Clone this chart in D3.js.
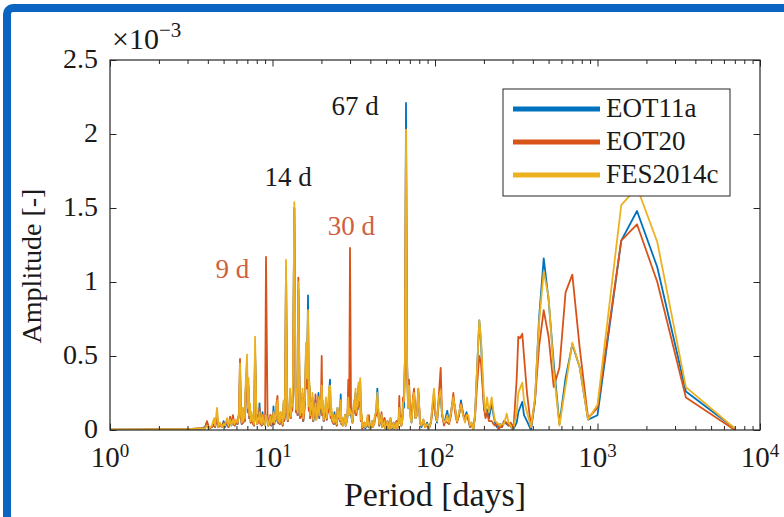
<!DOCTYPE html>
<html><head><meta charset="utf-8">
<script src="https://cdn.jsdelivr.net/npm/d3@7"></script>
<style>
body{margin:0;background:#fff;}
svg{display:block;}
</style>
</head><body>
<svg id="c" width="784" height="517"></svg>
<script>
// ---- data (amplitudes in units of 1e-3) ----
const period = [1,2.0,3.0,3.58,3.84,3.95,4.07,4.24,4.37,4.43,4.56,4.65,4.75,4.89,5.00,5.10,5.25,5.36,5.48,5.59,5.71,5.84,5.96,6.09,6.22,6.31,6.40,6.54,6.68,6.82,6.97,7.12,7.27,7.43,7.59,7.81,7.97,8.14,8.32,8.50,8.68,8.87,9.12,9.32,9.52,9.72,9.93,10.14,10.36,10.58,10.73,10.96,11.20,11.44,11.69,11.94,12.11,12.29,12.55,12.82,13.09,13.37,13.62,13.85,14.15,14.42,14.67,14.98,15.30,15.63,16.08,16.31,16.54,16.90,17.26,17.63,18.01,18.40,18.79,19.19,19.60,20.08,20.46,20.89,21.34,21.80,22.27,22.59,23.08,23.57,24.07,24.59,25.12,25.66,26.29,26.78,27.35,27.94,28.54,29.28,29.65,29.99,30.42,31.07,31.74,32.42,33.11,33.82,34.65,35.29,36.05,36.83,37.62,38.43,39.26,40.10,40.96,41.84,42.74,44.16,44.91,45.88,46.87,47.86,48.90,49.95,51.03,52.12,53.24,54.39,55.55,56.74,57.97,59.20,60.31,61.34,62.66,63.56,64.46,65.38,66.31,67.26,68.22,69.18,70.20,71.68,73.20,74.30,75.86,77.49,78.93,80.88,82.60,84.72,86.79,89.28,91.85,94.49,96.52,98.59,100.7,102.9,105.8,108.4,110.4,113.6,116.0,119.0,122.0,125.5,129.6,132.8,136.6,140.5,144.5,148.7,153.0,156.3,160.3,164.2,167.7,172.0,176.2,181.3,187.3,191.9,196.0,200.2,204.5,208.9,214.9,223.3,229.1,234.0,240.8,245.9,251.2,258.4,265.9,276.2,283.3,291.9,299.9,304.6,318.3,325.6,333.5,344.5,352.9,368.3,389.8,412.6,436.5,466.7,500,538,583,636,700,778,875,1000,1400,1750,2333,3500,7000];
const eot11a = [.003,.004,.005,.01,.02,.05,.01,.02,.04,.02,.10,.02,.04,.02,.06,.02,.05,.02,.06,.03,.06,.03,.05,.04,.10,.40,.08,.15,.10,.25,.45,.30,.15,.10,.05,.55,.08,.10,.18,.06,.12,.04,.10,.08,.04,.10,.05,.16,.08,.12,.15,.08,.12,.06,.18,.10,1.10,.15,.10,.25,.15,.30,1.50,.30,.25,.95,.25,.15,.25,.12,.55,.30,.91,.30,.15,.22,.10,.20,.12,.25,.15,.28,.18,.10,.20,.12,.25,.34,.12,.05,.12,.05,.15,.10,.24,.08,.05,.10,.05,.20,.10,.12,.10,.05,.18,.25,.15,.30,.33,.10,.02,.05,.02,.08,.04,.02,.06,.03,.10,.28,.10,.05,.10,.03,.08,.02,.06,.02,.08,.01,.05,.02,.06,.03,.15,.08,.05,.18,.15,.50,2.21,.50,.15,.20,.12,.05,.20,.25,.08,.10,.25,.05,.02,.07,.02,.05,.01,.06,.15,.25,.10,.05,.20,.25,.10,.05,.08,.13,.05,.12,.22,.15,.06,.10,.20,.10,.08,.12,.07,.02,.05,.00,.10,.40,.74,.60,.35,.15,.10,.14,.08,.18,.10,.05,.02,.02,.04,.02,.06,.04,.03,.03,.00,.01,.05,.12,.15,.19,.10,.06,.00,.20,.75,1.16,.88,.45,.04,.35,.58,.42,.07,.10,1.28,1.48,1.10,.26,.01];
const eot20 = [.003,.004,.005,.01,.01,.06,.01,.02,.03,.02,.08,.02,.03,.02,.05,.03,.06,.02,.09,.04,.10,.03,.05,.04,.12,.48,.08,.13,.09,.22,.42,.28,.14,.09,.04,.50,.06,.08,.15,.08,.10,.05,1.17,.10,.06,.10,.06,.12,.10,.18,.23,.09,.10,.05,.15,.09,1.10,.14,.10,.22,.14,.28,1.50,.28,.24,1.03,.28,.12,.22,.10,.52,.28,.80,.28,.15,.20,.10,.24,.15,.22,.18,.50,.15,.09,.18,.12,.22,.30,.12,.05,.10,.05,.14,.10,.20,.08,.05,.10,.06,.34,.15,1.23,.15,.05,.20,.24,.18,.28,.30,.10,.02,.05,.03,.08,.10,.02,.05,.04,.08,.18,.10,.06,.12,.04,.08,.02,.06,.03,.07,.02,.05,.02,.06,.03,.23,.10,.05,.22,.20,.50,2.03,.45,.20,.34,.15,.08,.22,.28,.08,.12,.28,.05,.03,.07,.02,.03,.01,.05,.14,.22,.10,.06,.25,.42,.12,.03,.06,.05,.04,.10,.25,.12,.05,.10,.18,.12,.06,.10,.08,.02,.04,.01,.08,.30,.50,.45,.30,.15,.08,.12,.06,.06,.04,.03,.04,.00,.02,.02,.06,.05,.03,.05,.03,.02,.35,.63,.62,.65,.50,.25,.02,.20,.56,.81,.63,.29,.42,.93,1.05,.55,.08,.15,1.28,1.39,1.00,.22,.00];
const fes2014c = [.003,.004,.005,.01,.01,.03,.01,.03,.08,.03,.15,.02,.05,.02,.04,.03,.08,.03,.07,.03,.07,.04,.07,.05,.10,.45,.10,.15,.12,.28,.51,.35,.18,.12,.06,.63,.06,.08,.12,.08,.10,.05,.10,.06,.05,.09,.06,.12,.10,.15,.20,.10,.12,.08,.20,.12,1.15,.18,.12,.28,.18,.35,1.54,.32,.28,1.00,.30,.18,.28,.14,.59,.35,.81,.32,.18,.25,.12,.18,.10,.22,.20,.30,.20,.12,.22,.15,.28,.30,.15,.06,.10,.06,.15,.12,.20,.08,.05,.10,.05,.22,.10,.14,.12,.05,.20,.28,.18,.32,.35,.12,.03,.05,.03,.10,.05,.02,.06,.03,.10,.25,.12,.06,.10,.04,.06,.02,.06,.02,.08,.02,.05,.02,.05,.03,.15,.08,.05,.18,.20,.50,2.03,.45,.15,.30,.10,.05,.20,.25,.08,.10,.28,.05,.03,.07,.02,.04,.01,.06,.18,.28,.12,.06,.22,.27,.12,.05,.06,.10,.05,.12,.22,.15,.06,.12,.17,.10,.05,.10,.10,.03,.05,.00,.10,.40,.74,.62,.40,.20,.12,.22,.12,.22,.12,.06,.05,.04,.03,.04,.04,.11,.05,.03,.00,.02,.12,.25,.28,.32,.20,.12,.02,.22,.72,1.07,.90,.40,.03,.30,.59,.42,.07,.17,1.52,1.64,1.27,.29,.01];
// extra samples of the dense 6–63 d noise floor (merged by period)
const extraPeriod = [6.47,6.61,6.75,7.04,7.20,7.35,7.51,7.70,8.05,8.23,8.41,8.59,8.77,9.00,9.42,9.62,9.82,10.04,10.25,10.47,10.85,11.08,11.32,11.56,11.81,12.42,12.68,12.95,13.23,13.99,14.28,14.82,15.14,15.46,15.85,16.72,17.08,17.44,17.82,18.20,18.59,18.99,19.40,19.84,20.27,20.67,21.11,21.57,22.04,22.83,23.32,23.82,24.33,24.85,25.39,25.97,26.53,27.06,27.64,28.24,28.91,31.40,32.08,32.76,33.46,34.23,34.97,35.67,36.44,37.22,38.02,38.84,39.68,40.53,41.40,42.29,43.45,45.39,46.37,47.36,48.38,49.42,50.49,51.57,52.68,53.81,54.97,56.14,57.35,58.58,59.75,60.82,62.0,63.1];
const extraEot11a = [.04,.05,.06,.12,.08,.05,.07,.03,.04,.06,.05,.03,.07,.03,.03,.06,.03,.05,.04,.06,.05,.04,.08,.03,.07,.06,.12,.08,.14,.12,.10,.08,.10,.06,.20,.14,.08,.12,.06,.12,.07,.14,.08,.12,.10,.06,.12,.07,.14,.08,.06,.04,.06,.03,.08,.06,.04,.03,.06,.03,.08,.10,.12,.10,.14,.18,.06,.01,.03,.01,.04,.02,.01,.03,.02,.05,.12,.03,.06,.02,.04,.01,.03,.01,.04,.01,.03,.01,.03,.01,.06,.05,.03,.08];
const extraEot20 = [.04,.05,.06,.12,.08,.05,.06,.03,.04,.05,.04,.03,.06,.04,.03,.06,.03,.05,.04,.07,.05,.04,.07,.03,.06,.06,.10,.08,.13,.12,.10,.08,.09,.06,.18,.13,.08,.11,.06,.12,.08,.12,.09,.14,.10,.06,.11,.07,.12,.08,.06,.04,.05,.03,.08,.06,.04,.03,.06,.03,.10,.10,.12,.10,.14,.16,.06,.01,.03,.02,.04,.04,.01,.03,.02,.04,.10,.03,.07,.02,.04,.01,.03,.01,.04,.01,.03,.01,.03,.01,.08,.06,.03,.10];
const extraFes2014c = [.05,.06,.08,.15,.10,.06,.08,.04,.04,.07,.05,.04,.07,.03,.03,.07,.04,.06,.05,.07,.06,.05,.09,.04,.08,.07,.13,.09,.16,.14,.12,.10,.12,.08,.22,.16,.10,.14,.07,.14,.07,.15,.10,.15,.12,.07,.14,.08,.15,.10,.07,.05,.06,.04,.09,.07,.05,.03,.06,.03,.09,.12,.14,.12,.16,.20,.07,.02,.03,.02,.05,.03,.01,.03,.02,.05,.12,.04,.06,.02,.04,.01,.03,.01,.04,.01,.03,.01,.03,.01,.06,.05,.03,.08];
const seriesNames = ["EOT11a","EOT20","FES2014c"];
const seriesColors = ["#0072bd","#d95319","#edb120"];
const yTicks = [0,0.5,1,1.5,2,2.5];
const yTickLabels = ["0","0.5","1","1.5","2","2.5"];
const xMajor = [1,10,100,1000,10000];
const xTickExps = ["0","1","2","3","4"];
const annLabels = ["67 d","14 d","30 d","9 d"];
const annPeriods = [32.3,12.46,30.6,5.67];
const annAmps = [2.13,1.65,1.32,1.03];
const annColors = ["#1a1a1a","#1a1a1a","#d0603c","#d0603c"];

// ---- layout ----
const FONT = "'Times New Roman', Tinos, 'Nimbus Roman', FreeSerif, 'Noto Serif', 'DejaVu Serif', 'Liberation Serif', serif";
const TXT = "#1a1a1a";
const svg = d3.select("#c");
const L=110,R=760,T=60,B=430;
const x = d3.scaleLog().domain([1,1e4]).range([L,R]);
const y = d3.scaleLinear().domain([0,2.5]).range([B,T]);
const axisCol="#262626";

function txt(sel){ return sel.attr("font-family",FONT).attr("fill",TXT); }

// frame
svg.append("rect").attr("x",7).attr("y",8).attr("width",830).attr("height",570)
  .attr("rx",6).attr("fill","none").attr("stroke","#0b64c0").attr("stroke-width",8);

svg.append("defs").append("clipPath").attr("id","clip")
  .append("rect").attr("x",L).attr("y",T).attr("width",R-L).attr("height",B-T);

// merge samples, ordered by period
const allP = period.concat(extraPeriod);
const allS = [eot11a.concat(extraEot11a), eot20.concat(extraEot20), fes2014c.concat(extraFes2014c)];
const order = d3.range(allP.length).sort((a,b)=>allP[a]-allP[b]);

const g = svg.append("g").attr("clip-path","url(#clip)");
allS.forEach((vals,i)=>{
  const line=d3.line().x(j=>x(allP[j])).y(j=>y(vals[j]));
  g.append("path").datum(order).attr("d",line).attr("fill","none")
   .attr("stroke",seriesColors[i]).attr("stroke-width",1.8).attr("stroke-linejoin","round");
});

// axes ticks (inward)
const minor = x.ticks().filter(v=>!xMajor.includes(v));
function tickAxis(gen, vals, size, tr){
  const a = svg.append("g").attr("transform",tr).call(gen.tickValues(vals).tickSize(size).tickFormat(""));
  a.select(".domain").remove();
  a.selectAll("line").attr("stroke",axisCol).attr("stroke-width",1);
}
tickAxis(d3.axisBottom(x), xMajor, -6.5, `translate(0,${B})`);
tickAxis(d3.axisBottom(x), minor, -4, `translate(0,${B})`);
tickAxis(d3.axisTop(x), xMajor, -6.5, `translate(0,${T})`);
tickAxis(d3.axisTop(x), minor, -4, `translate(0,${T})`);
tickAxis(d3.axisLeft(y), yTicks, -6.5, `translate(${L},0)`);
tickAxis(d3.axisRight(y), yTicks, -6.5, `translate(${R},0)`);

svg.append("rect").attr("x",L).attr("y",T).attr("width",R-L).attr("height",B-T)
  .attr("fill","none").attr("stroke",axisCol).attr("stroke-width",1.2);

// tick labels
yTicks.forEach((v,i)=>{
  txt(svg.append("text")).attr("x",L-12).attr("y",y(v)+8).attr("text-anchor","end")
    .attr("font-size",28).text(yTickLabels[i]);
});
xMajor.forEach((v,i)=>{
  const t=txt(svg.append("text")).attr("x",x(v)).attr("y",B+37).attr("text-anchor","middle").attr("font-size",29);
  t.append("tspan").text("10");
  t.append("tspan").attr("font-size",19).attr("dy",-10).text(xTickExps[i]);
});
const ex=txt(svg.append("text")).attr("x",L+2).attr("y",T-11).attr("font-size",30);
ex.append("tspan").text("×10");
ex.append("tspan").attr("font-size",21).attr("dy",-12).text("−3");

// axis labels
txt(svg.append("text")).attr("x",435).attr("y",506).attr("text-anchor","middle")
  .attr("font-size",34).text("Period [days]");
txt(svg.append("text")).attr("transform","translate(41,266) rotate(-90)").attr("text-anchor","middle")
  .attr("font-size",28).text("Amplitude [-]");

// annotations
annLabels.forEach((s,i)=>{
  txt(svg.append("text")).attr("x",x(annPeriods[i])).attr("y",y(annAmps[i]))
    .attr("text-anchor","middle").attr("font-size",27).attr("fill",annColors[i]).text(s);
});

// legend
const lg=svg.append("g");
lg.append("rect").attr("x",503).attr("y",89).attr("width",227).attr("height",107)
  .attr("fill","#fff").attr("stroke",axisCol).attr("stroke-width",1);
seriesNames.forEach((n,i)=>{
  const yy=109+i*33;
  lg.append("line").attr("x1",513).attr("x2",600).attr("y1",yy).attr("y2",yy)
    .attr("stroke",seriesColors[i]).attr("stroke-width",5);
  txt(lg.append("text")).attr("x",606).attr("y",yy+8).attr("font-size",27).text(n);
});
</script>
</body></html>
